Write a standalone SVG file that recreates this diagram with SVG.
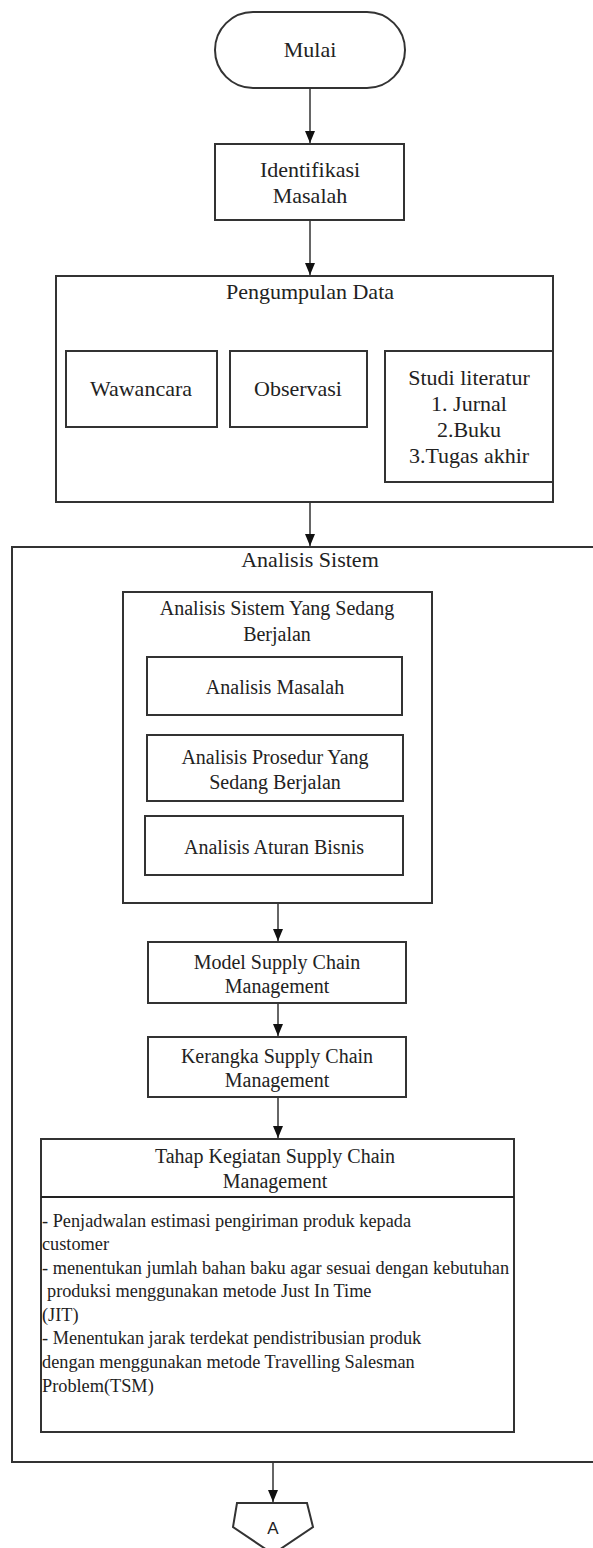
<svg xmlns="http://www.w3.org/2000/svg" width="593" height="1548" viewBox="0 0 593 1548">
<style>
.b{fill:#fff;stroke:#333;stroke-width:2}
.t{font-family:"Liberation Serif","Times New Roman",serif;fill:#222;text-anchor:middle}
.l{font-size:22px}
.m{font-size:20px}
.s{font-family:"Liberation Serif","Times New Roman",serif;fill:#222;font-size:18.3px}
.c{stroke:#333;stroke-width:1.5;fill:none}
</style>
<defs>
<marker id="ah" markerWidth="12" markerHeight="10" refX="12" refY="5" orient="auto" markerUnits="userSpaceOnUse" viewBox="0 0 12 10">
<path d="M0,0 L12,5 L0,10 Z" fill="#111"/>
</marker>
</defs>
<rect width="593" height="1548" fill="#fff"/>
<g id="mulai"><rect class="b" x="215" y="12" width="190" height="76" rx="38"/><text class="t l" x="310" y="57">Mulai</text></g>
<g id="identifikasi"><rect class="b" x="215" y="144" width="189" height="76"/><text class="t l" x="310" y="177">Identifikasi</text><text class="t l" x="310" y="203">Masalah</text></g>
<g id="pengumpulan"><rect class="b" x="56" y="276" width="497" height="226"/><text class="t l" x="310" y="299">Pengumpulan Data</text></g>
<g id="wawancara"><rect class="b" x="66" y="351" width="151" height="76"/><text class="t l" x="141" y="396">Wawancara</text></g>
<g id="observasi"><rect class="b" x="230" y="351" width="137" height="76"/><text class="t l" x="298" y="396">Observasi</text></g>
<g id="studi"><rect class="b" x="385" y="351" width="168" height="131"/><text class="t l" x="469" y="385">Studi literatur</text><text class="t l" x="469" y="411">1. Jurnal</text><text class="t l" x="469" y="437">2.Buku</text><text class="t l" x="469" y="463">3.Tugas akhir</text></g>
<g id="analisis-sistem"><rect class="b" x="12" y="547" width="590" height="915"/><text class="t l" x="310" y="567">Analisis Sistem</text></g>
<g id="sistem-berjalan"><rect class="b" x="123" y="592" width="309" height="311"/><text class="t m" x="277" y="615">Analisis Sistem Yang Sedang</text><text class="t m" x="277" y="641">Berjalan</text></g>
<g id="analisis-masalah"><rect class="b" x="147" y="657" width="255" height="58"/><text class="t m" x="275" y="694">Analisis Masalah</text></g>
<g id="analisis-prosedur"><rect class="b" x="147" y="735" width="256" height="66"/><text class="t m" x="275" y="764">Analisis Prosedur Yang</text><text class="t m" x="275" y="789">Sedang Berjalan</text></g>
<g id="analisis-aturan"><rect class="b" x="145" y="816" width="258" height="59"/><text class="t m" x="274" y="854">Analisis Aturan Bisnis</text></g>
<g id="model-scm"><rect class="b" x="148" y="942" width="258" height="61"/><text class="t m" x="277" y="969">Model Supply Chain</text><text class="t m" x="277" y="993">Management</text></g>
<g id="kerangka-scm"><rect class="b" x="148" y="1037" width="258" height="60"/><text class="t m" x="277" y="1063">Kerangka Supply Chain</text><text class="t m" x="277" y="1087">Management</text></g>
<g id="tahap-scm"><rect class="b" x="41" y="1139" width="473" height="293"/><line x1="41" y1="1197" x2="514" y2="1197" stroke="#222" stroke-width="2"/>
<text class="t m" x="275" y="1163">Tahap Kegiatan Supply Chain</text><text class="t m" x="275" y="1188">Management</text>
<text class="s" x="42" y="1227">- Penjadwalan estimasi pengiriman produk kepada</text>
<text class="s" x="42" y="1250">customer</text>
<text class="s" x="42" y="1274">- menentukan jumlah bahan baku agar sesuai dengan kebutuhan</text>
<text class="s" x="47" y="1297">produksi menggunakan metode Just In Time</text>
<text class="s" x="42" y="1321">(JIT)</text>
<text class="s" x="42" y="1344">- Menentukan jarak terdekat pendistribusian produk</text>
<text class="s" x="42" y="1368">dengan menggunakan metode Travelling Salesman</text>
<text class="s" x="42" y="1392">Problem(TSM)</text></g>
<g id="offpage-a"><polygon class="b" points="237,1503 307,1503 313,1527 273,1554 233,1527"/><text x="273" y="1534" text-anchor="middle" font-family="Liberation Sans,Arial,sans-serif" font-size="17" fill="#222">A</text></g>
<g id="connectors">
<line class="c" x1="310" y1="88" x2="310" y2="143" marker-end="url(#ah)"/>
<line class="c" x1="310" y1="220" x2="310" y2="275" marker-end="url(#ah)"/>
<line class="c" x1="310" y1="502" x2="310" y2="546" marker-end="url(#ah)"/>
<line class="c" x1="278" y1="903" x2="278" y2="941" marker-end="url(#ah)"/>
<line class="c" x1="278" y1="1003" x2="278" y2="1036" marker-end="url(#ah)"/>
<line class="c" x1="278" y1="1097" x2="278" y2="1138" marker-end="url(#ah)"/>
<line class="c" x1="273" y1="1462" x2="273" y2="1502" marker-end="url(#ah)"/>
</g>
</svg>
